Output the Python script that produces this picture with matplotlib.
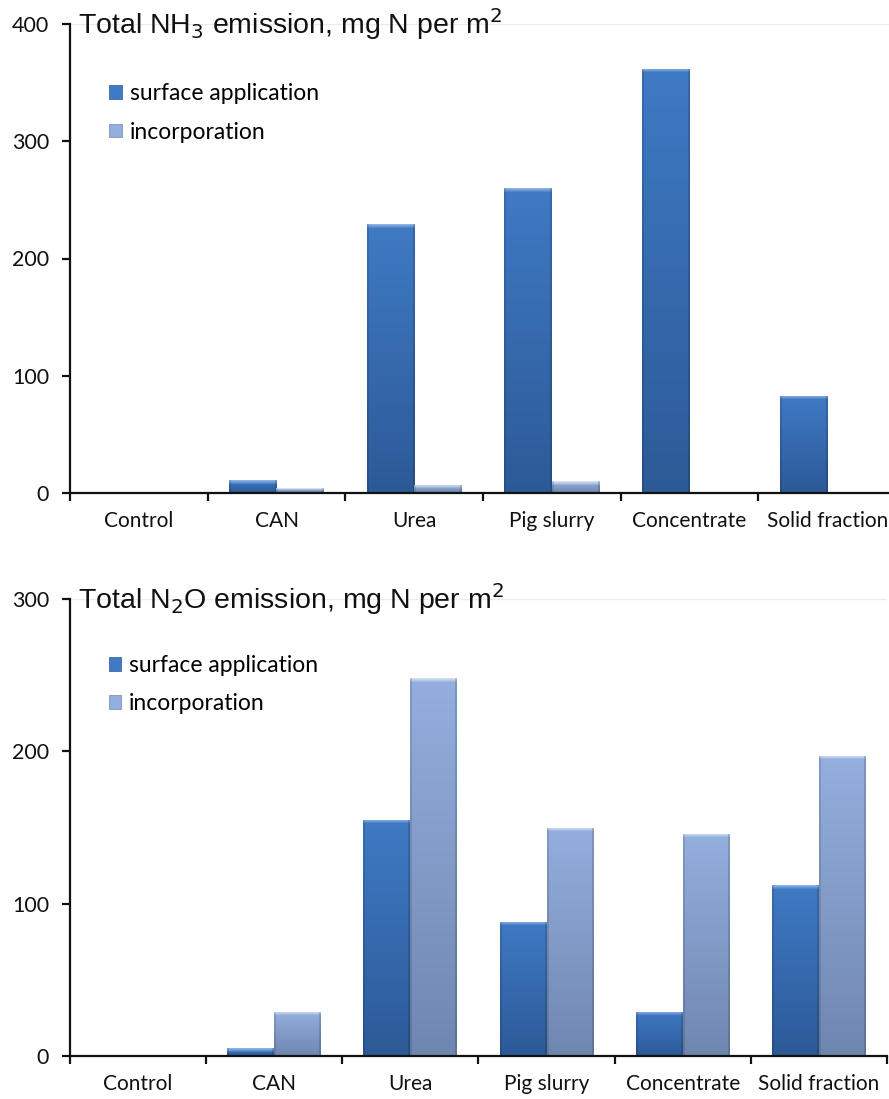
import numpy as np
import matplotlib
matplotlib.use("Agg")
import matplotlib.pyplot as plt
from matplotlib.patches import Patch
from matplotlib.colors import to_rgb

categories = ["Control", "CAN", "Urea", "Pig slurry", "Concentrate", "Solid fraction"]
series_names = ["surface application", "incorporation"]
nh3_surface = [0, 11, 229, 260, 362, 83]
nh3_incorp = [0, 4, 7, 10, 0, 0]
n2o_surface = [0, 5, 155, 88, 29, 112]
n2o_incorp = [0, 29, 248, 150, 146, 197]
nh3_yticks = [0, 100, 200, 300, 400]
n2o_yticks = [0, 100, 200, 300]

W, H, DPI = 889, 1099, 100
fig = plt.figure(figsize=(W / DPI, H / DPI), dpi=DPI)
fig.patch.set_facecolor("white")

body_font = ["Lato", "DejaVu Sans"]
title_font = ["Liberation Sans", "DejaVu Sans"]

surf_top, surf_bot, surf_hi = "#3F7AC4", "#2C5A97", "#8DB3E6"
inc_top, inc_bot, inc_hi = "#94AFDE", "#6F86B0", "#D3E0F5"
bar_w = 0.345


def grad_bars(ax, x, vals, top, bot, hi, px_per_unit):
    bars = ax.bar(x, vals, width=bar_w, color=top, edgecolor="none", zorder=2)
    t, b, h_ = np.array(to_rgb(top)), np.array(to_rgb(bot)), np.array(to_rgb(hi))
    for rect, v in zip(bars, vals):
        if v <= 0:
            continue
        npx = max(3, int(round(v * px_per_unit)))
        f = np.linspace(0, 1, npx)[:, None]
        col = t[None, :] * (1 - f) + b[None, :] * f
        nb = min(4, max(1, npx // 2))
        for k in range(nb):
            w = 1 - k / nb
            col[k] = h_ * w + col[k] * (1 - w)
        nx = 48
        shade = np.ones(nx)
        shade[:2] = 0.88
        shade[-2:] = 0.85
        img = np.clip(col[:, None, :] * shade[None, :, None], 0, 1)
        x0 = rect.get_x()
        im = ax.imshow(img, extent=[x0, x0 + rect.get_width(), 0, v],
                       aspect="auto", origin="upper", zorder=3,
                       interpolation="bilinear")
        im.set_clip_path(rect)
    return bars


def make_panel(rect, surf, inc, yticks, title, ax_px_h, leg_y):
    ax = fig.add_axes(rect)
    x = np.arange(len(categories))
    ymax = yticks[-1]
    ppu = ax_px_h / ymax
    grad_bars(ax, x - bar_w / 2, surf, surf_top, surf_bot, surf_hi, ppu)
    grad_bars(ax, x + bar_w / 2, inc, inc_top, inc_bot, inc_hi, ppu)
    ax.set_xlim(-0.5, len(categories) - 0.5)
    ax.set_ylim(0, ymax)
    for s in ["top", "right"]:
        ax.spines[s].set_visible(False)
    for s in ["left", "bottom"]:
        ax.spines[s].set_linewidth(1.6)
        ax.spines[s].set_color("#111111")
        ax.spines[s].set_zorder(5)
    ax.axhline(ymax, color="#ececec", lw=1.0, zorder=0)
    ax.set_yticks(yticks)
    ax.set_yticklabels([str(v) for v in yticks], fontsize=15.5, family=body_font)
    ax.tick_params(axis="y", direction="out", length=6, width=1.6, pad=9, colors="#111111")
    ax.set_xticks(x)
    ax.set_xticklabels(categories, fontsize=15, family=body_font)
    ax.tick_params(axis="x", which="major", length=0, pad=13, colors="#111111")
    ax.set_xticks(np.arange(-0.5, len(categories)), minor=True)
    ax.tick_params(axis="x", which="minor", direction="out", length=6, width=1.6, color="#111111")
    ax.text(0.01, 1.0, title, transform=ax.transAxes, ha="left", va="center",
            fontsize=20.5, family=title_font, color="#111111")
    handles = [Patch(facecolor=surf_top, edgecolor="#2B5895", lw=0.5),
               Patch(facecolor=inc_top, edgecolor="#7086AE", lw=0.5)]
    ax.legend(handles, series_names, loc="upper left", bbox_to_anchor=(0.036, leg_y),
              frameon=False, handlelength=0.55, handleheight=0.55,
              handletextpad=0.35, labelspacing=0.75, borderaxespad=0,
              prop={"family": body_font, "size": 16.5})
    return ax


left = 70 / W
top_rect = [left, 1 - 493 / H, 896 / W - left, (493 - 24) / H]
bot_rect = [left, 1 - 1056 / H, 887 / W - left, (1056 - 599) / H]

make_panel(top_rect, nh3_surface, nh3_incorp, nh3_yticks,
           "Total NH$_3$ emission, mg N per m$^2$", 469, 0.893)
make_panel(bot_rect, n2o_surface, n2o_incorp, n2o_yticks,
           "Total N$_2$O emission, mg N per m$^2$", 457, 0.897)

fig.savefig("out.png", dpi=DPI)
